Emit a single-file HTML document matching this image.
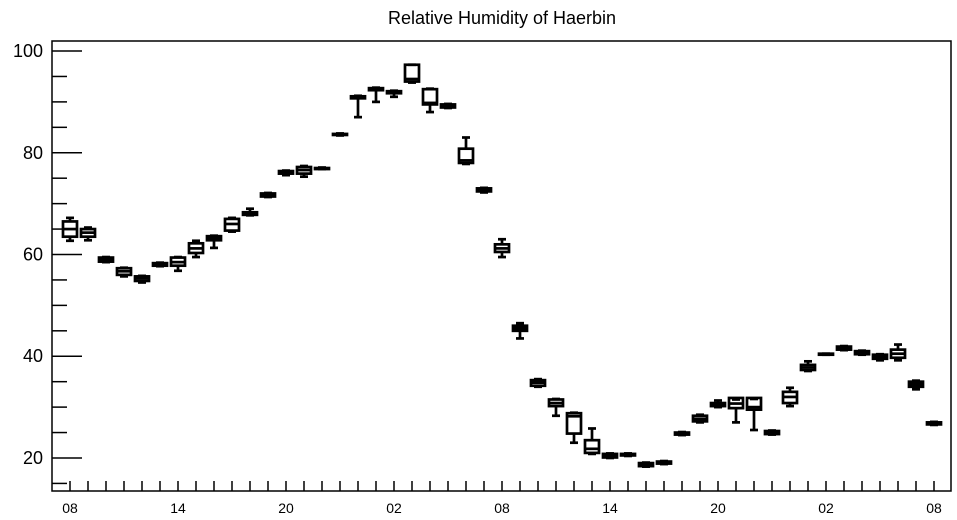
<!DOCTYPE html>
<html><head><meta charset="utf-8"><style>
body{margin:0;background:#fff;}
svg{display:block;font-family:"Liberation Sans",sans-serif;}
</style></head><body>
<svg id="chart" width="957" height="520">
<text x="502" y="24" text-anchor="middle" font-size="18">Relative Humidity of Haerbin</text>
<g id="axes"></g>
<g id="boxes"></g>
</svg>
<script>
const hours = ["08","09","10","11","12","13","14","15","16","17","18","19","20","21","22","23","00","01","02","03","04","05","06","07","08","09","10","11","12","13","14","15","16","17","18","19","20","21","22","23","00","01","02","03","04","05","06","07","08"];
const medians = [65,64.3,59,56.7,55.3,58.1,58.5,61.2,63.2,66,68,71.7,76.2,76.6,76.9,83.6,90.9,92.5,92,94.5,89.8,89.2,78.5,72.7,61.2,45.5,34.8,30.8,28.2,21.8,20.5,20.7,18.7,19.1,24.8,27.7,30.5,30.7,30,25,32,37.8,40.4,41.6,40.7,40,40.5,34.5,26.8];
const q1s = [63.5,63.5,58.6,56,54.8,57.8,57.8,60.3,62.8,64.7,67.8,71.4,75.9,75.9,76.8,83.5,90.7,92.3,91.7,94,89.5,88.9,78,72.4,60.5,45,34.2,30.2,24.8,21,20.1,20.5,18.4,18.9,24.6,27.2,30.2,29.8,29.5,24.7,30.8,37.3,40.3,41.3,40.4,39.5,39.7,34,26.6];
const q3s = [66.5,65,59.4,57.3,55.7,58.3,59.4,62.2,63.6,67,68.3,72,76.4,77.2,77,83.7,91.1,92.7,92.1,97.3,92.5,89.5,80.8,73,62,46,35.3,31.5,28.8,23.5,20.8,20.8,19,19.3,25,28.3,30.8,31.8,31.8,25.3,33,38.3,40.5,41.9,41,40.3,41.3,35,27];
const mins = [62.7,62.8,58.5,55.7,54.5,57.7,56.8,59.5,61.3,64.5,67.7,71.3,75.6,75.3,76.8,83.4,87,90,91,93.8,88,88.8,77.8,72.2,59.5,43.5,34,28.3,23,20.8,20,20.4,18.3,18.8,24.5,27,30,27,25.5,24.6,30.2,37.1,40.3,41.2,40.3,39.2,39.2,33.5,26.5];
const maxs = [67.2,65.3,59.5,57.4,55.8,58.4,59.5,62.7,63.7,67.2,69,72.1,76.5,77.4,77.1,83.8,91.2,92.8,92.2,97.3,92.6,89.6,83,73.1,63,46.5,35.5,31.6,28.9,25.8,20.9,20.9,19.1,19.4,25.1,28.5,31.3,31.5,31.6,25.4,33.8,39,40.5,42,41.1,40.4,42.3,35.2,27.1];
const yTicks = [20,40,60,80,100];

const L=52,R=951,T=41,B=491;
const yMin=13.51,yMax=101.97;
const y = v => B-(v-yMin)/(yMax-yMin)*(B-T);
const x = i => 70+i*18;
const NS="http://www.w3.org/2000/svg";
function mk(tag,attrs,parent){const e=document.createElementNS(NS,tag);for(const k in attrs)e.setAttribute(k,attrs[k]);parent.appendChild(e);return e;}
const axes=document.getElementById('axes'), boxes=document.getElementById('boxes');

const frame=mk('rect',{x:L,y:T,width:R-L,height:B-T,fill:'none',stroke:'#000','stroke-width':1.5},axes);



for(let v=15;v<=100;v+=5){
  const major = v%20===0;
  const t=mk('line',{x1:L,x2:L+(major?30:15),y1:y(v),y2:y(v),stroke:'#000','stroke-width':1.5},axes);
  
  
}
yTicks.forEach(v=>{
  const t=mk('text',{x:L-9,y:y(v)+6,'text-anchor':'end','font-size':18},axes);
  t.textContent=v;
  
  
});
hours.forEach((h,i)=>{
  const t=mk('line',{x1:x(i),x2:x(i),y1:B,y2:B-10,stroke:'#000','stroke-width':1.5},axes);
  
  
  if(i%6===0){
    const l=mk('text',{x:x(i),y:513,'text-anchor':'middle','font-size':14},axes);
    l.textContent=h;
    
    
  }
});

medians.forEach((m,i)=>{
  const g=mk('g',{stroke:'#000','stroke-width':2.7,fill:'none'},boxes);
  
  
  const cx=x(i),w=7,cw=4;
  mk('line',{x1:cx,x2:cx,y1:y(maxs[i]),y2:y(q3s[i])},g);
  mk('line',{x1:cx,x2:cx,y1:y(q1s[i]),y2:y(mins[i])},g);
  mk('line',{x1:cx-cw,x2:cx+cw,y1:y(maxs[i]),y2:y(maxs[i])},g);
  mk('line',{x1:cx-cw,x2:cx+cw,y1:y(mins[i]),y2:y(mins[i])},g);
  const top=y(q3s[i]),bot=y(q1s[i]);
  mk('rect',{x:cx-w,y:top,width:2*w,height:Math.max(bot-top,1)},g);
  mk('line',{x1:cx-w,x2:cx+w,y1:y(m),y2:y(m)},g);
});
</script>
</body></html>
